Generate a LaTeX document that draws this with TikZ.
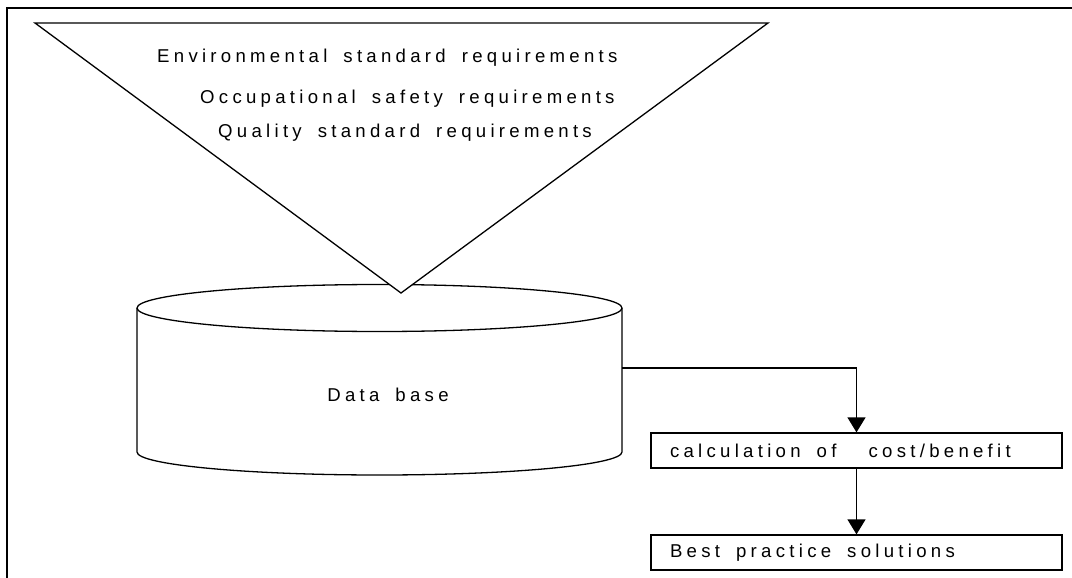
\documentclass[tikz,border=0pt]{standalone}
\usepackage{fontspec}
\setmainfont{Liberation Sans}[LetterSpace=23,WordSpace=1.7]
\usetikzlibrary{arrows.meta}
\begin{document}
\begin{tikzpicture}[x=1pt,y=-1pt,
  lbl/.style={inner sep=0pt,font=\fontsize{18.6}{20}\selectfont},
  box/.style={draw,line width=1.3pt,minimum width=411pt,minimum height=35pt,
    inner xsep=19pt,inner ysep=0pt,
    font=\fontsize{18.6}{20}\selectfont},
  ln/.style={line width=1.3pt},
  arr/.style={line width=1.3pt,-{Triangle[width=18pt,length=15pt]}}]
\useasboundingbox (0,0) rectangle (1072,578);
% frame
\draw[line width=2pt] (7,578) -- (7,8) -- (1073,8);
% cylinder
\draw[ln,fill=white] (137,308) -- (137,452) arc[start angle=180,end angle=0,x radius=242.5,y radius=23] -- (622,308);
\draw[ln] (379.5,308) ellipse[x radius=242.5,y radius=23.5];
\node[lbl] (db) at (388,395) {Data base};
\coordinate (dbr) at (622,368);
% funnel
\draw[ln,fill=white,line join=miter] (35,23) -- (768,23) -- (401,293) -- cycle;
\node[lbl,anchor=base west] (env) at (157,63) {Environmental standard requirements};
\node[lbl,anchor=base west] (occ) at (200,103) {Occupational safety requirements};
\node[lbl,anchor=base west] (qua) at (218,138) {Quality standard requirements};
% boxes
\node[box] (calc) at (856.5,450.5) {\makebox[373pt][l]{calculation of\ \ cost/benefit}};
\node[box] (best) at (856.5,552.5) {\makebox[373pt][l]{Best practice solutions}};
\draw[arr] (dbr) -| (calc.north);
\draw[arr] (calc) -- (best);
\end{tikzpicture}
\end{document}
